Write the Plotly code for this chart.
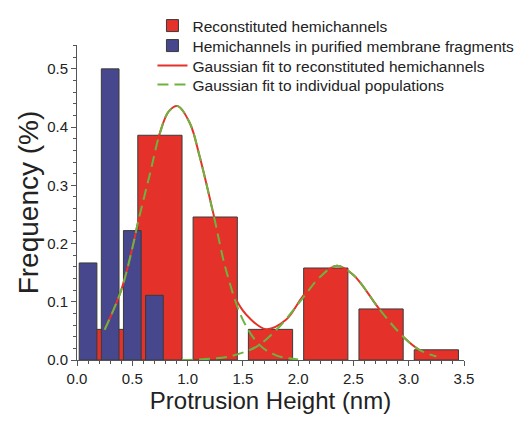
import plotly.graph_objects as go

# Histogram data
red_x = [0.25, 0.75, 1.25, 1.75, 2.25, 2.75, 3.25]
red_y = [0.0526, 0.386, 0.2456, 0.0526, 0.158, 0.0877, 0.0175]
blue_x = [0.1, 0.3, 0.5, 0.7]
blue_y = [0.1667, 0.5, 0.2222, 0.1111]

# Fit curves
fit_x = [0.25, 0.40, 0.51, 0.55, 0.66, 0.75, 0.83, 0.91, 1.02, 1.11, 1.24, 1.35, 1.45,
         1.56, 1.71, 1.89, 2.04, 2.20, 2.35, 2.50, 2.74, 2.95, 3.10, 3.25]
fit_y = [0.052, 0.12, 0.20, 0.235, 0.32, 0.39, 0.427, 0.436, 0.407, 0.349, 0.246, 0.155, 0.10,
         0.072, 0.053, 0.069, 0.109, 0.143, 0.162, 0.146, 0.086, 0.040, 0.017, 0.006]
g1_x = [0.25, 0.40, 0.51, 0.55, 0.66, 0.75, 0.83, 0.91, 1.02, 1.11, 1.24, 1.35, 1.50, 1.65, 1.80, 2.00]
g1_y = [0.052, 0.12, 0.20, 0.235, 0.32, 0.39, 0.427, 0.436, 0.407, 0.349, 0.245, 0.153, 0.069, 0.026, 0.008, 0.001]
g2_x = [0.95, 1.20, 1.38, 1.56, 1.65, 1.83, 2.04, 2.20, 2.35, 2.50, 2.74, 2.95, 3.10, 3.25]
g2_y = [0.0, 0.002, 0.006, 0.017, 0.026, 0.057, 0.106, 0.143, 0.162, 0.146, 0.086, 0.040, 0.017, 0.006]

RED = "#E4322B"
BLUE = "#46478C"
GREEN = "#6DB33F"
EDGE = "#3a3a3a"

fig = go.Figure()
fig.add_trace(go.Bar(x=red_x, y=red_y, width=0.4, name="Reconstituted hemichannels",
                     marker=dict(color=RED, line=dict(color=EDGE, width=1)), legend="legend"))
fig.add_trace(go.Bar(x=blue_x, y=blue_y, width=0.16, name="Hemichannels in purified membrane fragments",
                     marker=dict(color=BLUE, line=dict(color=EDGE, width=1)), legend="legend2"))
fig.add_trace(go.Scatter(x=fit_x, y=fit_y, mode="lines", line=dict(color=RED, width=2, shape="spline"),
                         name="Gaussian fit to reconstituted hemichannels", legend="legend3"))
fig.add_trace(go.Scatter(x=g1_x, y=g1_y, mode="lines",
                         line=dict(color=GREEN, width=2, shape="spline", dash="11px,6px"),
                         name="Gaussian fit to individual populations", legend="legend4"))
fig.add_trace(go.Scatter(x=g2_x, y=g2_y, mode="lines",
                         line=dict(color=GREEN, width=2, shape="spline", dash="11px,6px"),
                         name="Gaussian fit to individual populations", showlegend=False))

axis_common = dict(showline=True, linecolor="#555", linewidth=1, showgrid=False, zeroline=False,
                   ticks="outside", ticklen=5, tickcolor="#555", automargin=False,
                   tickfont=dict(family="Liberation Sans, Arial", size=15, color="#222"),
                   minor=dict(ticks="outside", ticklen=3, tickcolor="#555"))

leg = dict(x=0.195, xanchor="left", yanchor="top", bgcolor="rgba(0,0,0,0)",
           font=dict(size=15.5), itemwidth=30)

fig.update_layout(
    width=531, height=421,
    margin=dict(l=69, r=75, t=37, b=69, autoexpand=False),
    paper_bgcolor="white", plot_bgcolor="white",
    barmode="overlay",
    font=dict(family="Liberation Sans, Arial", color="#222"),
    xaxis=dict(range=[0, 3.5], dtick=0.5, tickformat=".1f",
               title=dict(text="Protrusion Height (nm)", font=dict(size=24), standoff=6),
               **axis_common),
    yaxis=dict(range=[0, 0.541], dtick=0.1, tickformat=".1f",
               title=dict(text="Frequency (%)", font=dict(size=28), standoff=0),
               **axis_common),
    legend=dict(y=1.1143, **leg),
    legend2=dict(y=1.0508, **leg),
    legend3=dict(y=0.9873, **leg),
    legend4=dict(y=0.927, **leg),
    showlegend=True,
)

fig.write_html("out.html")
